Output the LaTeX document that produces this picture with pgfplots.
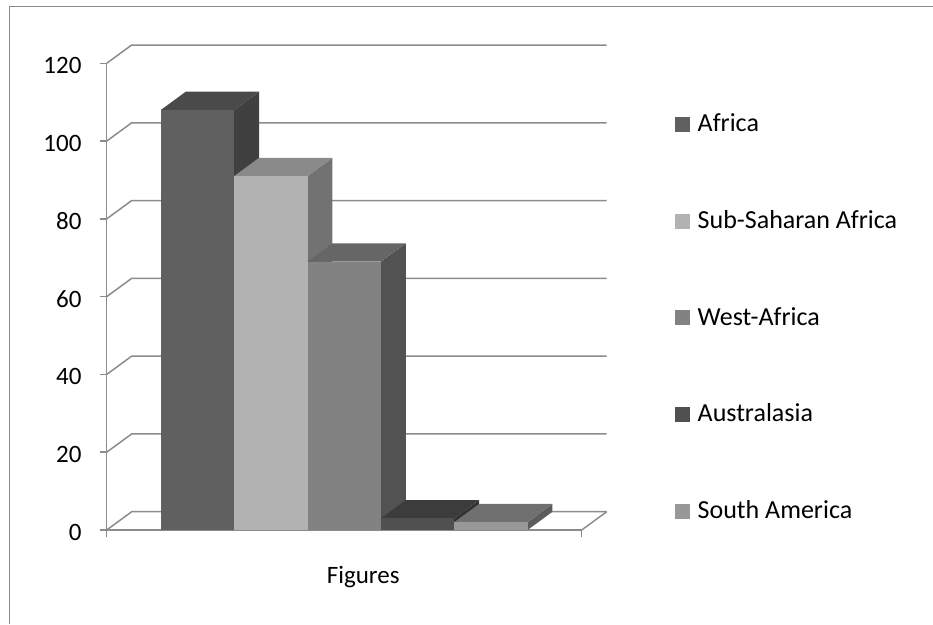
\documentclass[border=0pt]{standalone}
\usepackage{fontspec}
\setmainfont{Carlito}
\usepackage{pgfplots}
\pgfplotsset{compat=1.18}
\definecolor{gridc}{HTML}{8C8C8C}
\definecolor{framec}{HTML}{8A8A8A}
\definecolor{afrF}{HTML}{606060}\definecolor{afrT}{HTML}{4A4A4A}\definecolor{afrS}{HTML}{404040}
\definecolor{subF}{HTML}{B2B2B2}\definecolor{subT}{HTML}{8A8A8A}\definecolor{subS}{HTML}{727272}
\definecolor{wesF}{HTML}{828282}\definecolor{wesT}{HTML}{666666}\definecolor{wesS}{HTML}{525252}
\definecolor{ausF}{HTML}{505050}\definecolor{ausT}{HTML}{3C3C3C}\definecolor{ausS}{HTML}{333333}
\definecolor{samF}{HTML}{989898}\definecolor{samT}{HTML}{707070}\definecolor{samS}{HTML}{5C5C5C}
\pgfplotsset{legsq/.style={legend image code/.code={\fill[##1] (0pt,-7.5pt) rectangle (15pt,7.5pt);}}}
\begin{document}
\fontsize{25}{30}\selectfont
\begin{tikzpicture}
\useasboundingbox (0,0) rectangle (933pt,-624pt);
\draw[color=framec, line width=1.5pt] (9.5pt,-624pt) -- (9.5pt,-6.5pt) -- (933pt,-6.5pt);
\begin{axis}[
  at={(106.7pt,-530pt)}, anchor=south west,
  scale only axis, width=475pt, height=466.7pt,
  xmin=-1, xmax=1, ymin=0, ymax=120,
  clip=false,
  axis x line=bottom, axis y line=left,
  axis line style={-, gridc, line width=1.5pt},
  tick style={gridc, line width=1.5pt},
  tick align=outside, major tick length=7pt,
  xtick={-1,1}, xticklabels={,},
  ytick={0,20,...,120},
  /pgf/number format/assume math mode=true,
  yticklabel style={anchor=east, inner sep=0pt, text=black, xshift=-18pt, yshift=-2pt},
  legend style={draw=none, fill=none, inner sep=0pt, at={(1.1964,0.4542)}, anchor=west,
    row sep=68pt, column sep=4pt, nodes={inner sep=3.5pt}, font=\fontsize{26}{31}\selectfont},
  legend cell align=left,
]
% gridlines: front diagonal + back wall
\pgfplotsinvokeforeach{0,20,40,60,80,100,120}{
  \addplot[gridc, line width=1.5pt, forget plot] coordinates {(-1,#1) (-0.895,#1+4.7) (1.105,#1+4.7)};
}
\addplot[gridc, line width=1.5pt, forget plot] coordinates {(1,0) (1.105,4.7)};
% Africa 108
\addplot[fill=afrS, draw=none, forget plot] coordinates {(-0.4632,0) (-0.3582,4.7) (-0.3582,112.7) (-0.4632,108)};
\addplot[fill=afrT, draw=none, forget plot] coordinates {(-0.772,108) (-0.4632,108) (-0.3582,112.7) (-0.667,112.7)};
\addplot[ybar, bar width=0.3088, bar shift=-0.6176, fill=afrF, draw=none, legsq] coordinates {(0,108)};
\addlegendentry{Africa}
% Sub-Saharan 91
\addplot[fill=subS, draw=none, forget plot] coordinates {(-0.1544,0) (-0.0494,4.7) (-0.0494,95.7) (-0.1544,91)};
\addplot[fill=subT, draw=none, forget plot] coordinates {(-0.4632,91) (-0.1544,91) (-0.0494,95.7) (-0.3582,95.7)};
\addplot[ybar, bar width=0.3088, bar shift=-0.3088, fill=subF, draw=none, legsq] coordinates {(0,91)};
\addlegendentry{Sub-Saharan Africa}
% West-Africa 69
\addplot[fill=wesS, draw=none, forget plot] coordinates {(0.1544,0) (0.2594,4.7) (0.2594,73.7) (0.1544,69)};
\addplot[fill=wesT, draw=none, forget plot] coordinates {(-0.1544,69) (0.1544,69) (0.2594,73.7) (-0.0494,73.7)};
\addplot[ybar, bar width=0.3088, bar shift=0, fill=wesF, draw=none, legsq] coordinates {(0,69)};
\addlegendentry{West-Africa}
% Australasia 3
\addplot[fill=ausS, draw=none, forget plot] coordinates {(0.4632,0) (0.5682,4.7) (0.5682,7.7) (0.4632,3)};
\addplot[fill=ausT, draw=none, forget plot] coordinates {(0.1544,3) (0.4632,3) (0.5682,7.7) (0.2594,7.7)};
\addplot[ybar, bar width=0.3088, bar shift=0.3088, fill=ausF, draw=none, legsq] coordinates {(0,3)};
\addlegendentry{Australasia}
% South America 2
\addplot[fill=samS, draw=none, forget plot] coordinates {(0.772,0) (0.877,4.7) (0.877,6.7) (0.772,2)};
\addplot[fill=samT, draw=none, forget plot] coordinates {(0.4632,2) (0.772,2) (0.877,6.7) (0.5682,6.7)};
\addplot[ybar, bar width=0.3088, bar shift=0.6176, fill=samF, draw=none, legsq] coordinates {(0,2)};
\addlegendentry{South America}
\node[anchor=base] at (axis cs:0.08,0) [yshift=-53pt] {Figures};
\end{axis}
\end{tikzpicture}
\end{document}
